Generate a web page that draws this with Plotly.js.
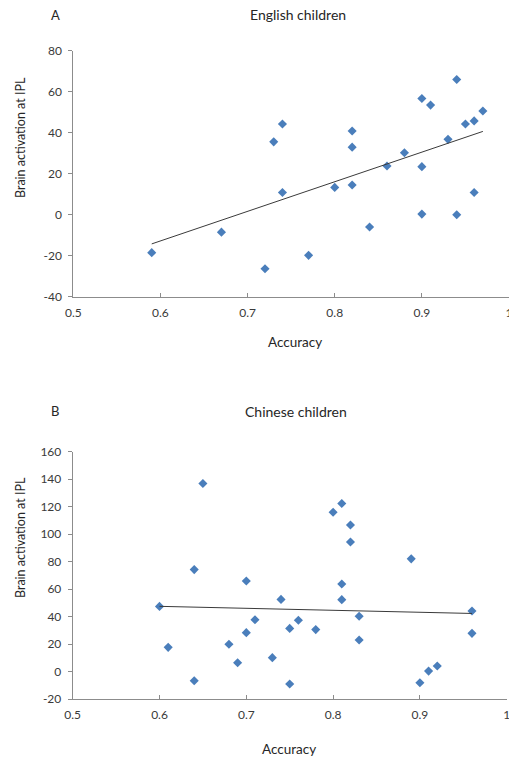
<!DOCTYPE html>
<html>
<head>
<meta charset="utf-8">
<script src="https://cdn.plot.ly/plotly-3.0.1.min.js"></script>
<style>html,body{margin:0;padding:0;background:#fff;}#chart{width:509px;height:762px;}</style>
</head>
<body>
<div id="chart"></div>
<script>
// Panel A: English children
const englishAccuracy = [0.59,0.67,0.72,0.73,0.74,0.74,0.77,0.80,0.82,0.82,0.82,0.84,0.86,0.88,0.90,0.90,0.90,0.91,0.93,0.94,0.94,0.95,0.96,0.96,0.97];
const englishActivation = [-18.5,-8.5,-26.3,35.5,44.2,10.8,-19.8,13.3,40.8,32.9,14.5,-6,23.7,30.2,56.6,23.4,0.3,53.4,36.7,65.9,0,44.2,45.7,10.8,50.5];
// Panel B: Chinese children
const chineseAccuracy = [0.60,0.61,0.64,0.64,0.65,0.68,0.69,0.70,0.70,0.71,0.73,0.74,0.75,0.75,0.76,0.78,0.80,0.81,0.81,0.81,0.82,0.82,0.83,0.83,0.89,0.90,0.91,0.92,0.96,0.96];
const chineseActivation = [47.4,17.6,74.2,-6.7,136.8,19.8,6.4,65.9,28.3,37.7,10.1,52.5,31.4,-9.1,37.3,30.5,115.9,122.3,63.7,52.3,106.7,94.3,40.2,22.9,82,-8.2,0.3,4,44.1,27.8];

const xTickVals = [0.5,0.6,0.7,0.8,0.9,1];
const xTickText = ['0.5','0.6','0.7','0.8','0.9','1'];
const yTicksA = [-40,-20,0,20,40,60,80];
const yTickTextA = ['-40','-20','0','20','40','60','80'];
const yTicksB = [-20,0,20,40,60,80,100,120,140,160];
const yTickTextB = ['-20','0','20','40','60','80','100','120','140','160'];

const panelTitles = ['English children','Chinese children'];
const panelLetters = ['A','B'];
const xTitle = 'Accuracy';
const yTitle = 'Brain activation at IPL';

function fitLine(xs, ys){
  const n = xs.length;
  const mx = xs.reduce((a,b)=>a+b,0)/n;
  const my = ys.reduce((a,b)=>a+b,0)/n;
  let sxy=0,sxx=0;
  for(let i=0;i<n;i++){sxy+=(xs[i]-mx)*(ys[i]-my);sxx+=(xs[i]-mx)*(xs[i]-mx);}
  const b = sxy/sxx, a = my-b*mx;
  const x0 = Math.min(...xs), x1 = Math.max(...xs);
  return {x:[x0,x1], y:[a+b*x0, a+b*x1]};
}

const W = 509, H = 762;
const px = v => v / W;
const py = v => 1 - v / H;

const markerStyle = {symbol:'diamond', size:7, color:'#4A7EBB', line:{width:0}};
const lineStyle = {color:'#3a3a3a', width:1};

const fitA = fitLine(englishAccuracy, englishActivation);
const fitB = fitLine(chineseAccuracy, chineseActivation);

const data = [
  {x:englishAccuracy, y:englishActivation, type:'scatter', mode:'markers', marker:markerStyle, xaxis:'x', yaxis:'y', hoverinfo:'x+y'},
  {x:fitA.x, y:fitA.y, type:'scatter', mode:'lines', line:lineStyle, xaxis:'x', yaxis:'y', hoverinfo:'skip'},
  {x:chineseAccuracy, y:chineseActivation, type:'scatter', mode:'markers', marker:markerStyle, xaxis:'x2', yaxis:'y2', hoverinfo:'x+y'},
  {x:fitB.x, y:fitB.y, type:'scatter', mode:'lines', line:lineStyle, xaxis:'x2', yaxis:'y2', hoverinfo:'skip'}
];

const fam = 'Lato, "Open Sans", sans-serif';
const tickFont = {family:fam, size:12, color:'#3a3a3a'};
const axisColor = '#8c8c8c';

function xAxis(domain, anchor){
  return {domain:domain, anchor:anchor, range:[0.5,1], tickmode:'array', tickvals:xTickVals, ticktext:xTickText,
    showline:true, linecolor:axisColor, linewidth:1, ticks:'inside', ticklen:4, tickcolor:axisColor,
    showgrid:false, zeroline:false, tickfont:tickFont, ticklabelstandoff:5, ticklabeloverflow:'allow', fixedrange:true};
}
function yAxis(domain, anchor, range, ticks, text){
  return {domain:domain, anchor:anchor, range:range, tickmode:'array', tickvals:ticks, ticktext:text,
    showline:true, linecolor:axisColor, linewidth:1, ticks:'outside', ticklen:4, tickcolor:axisColor,
    showgrid:false, zeroline:false, tickfont:tickFont, ticklabelstandoff:4, ticklabeloverflow:'allow', fixedrange:true};
}

function ann(text, x, y, size, angle){
  return {text:text, xref:'paper', yref:'paper', x:px(x), y:py(y), xanchor:'center', yanchor:'middle',
    showarrow:false, font:{family:fam, size:size, color:'#262626'}, textangle:angle||0};
}

const layout = {
  width:W, height:H, autosize:false,
  margin:{l:0,r:0,t:0,b:0,pad:0},
  paper_bgcolor:'#ffffff', plot_bgcolor:'#ffffff',
  showlegend:false,
  xaxis: xAxis([px(73.3), 1], 'y'),
  yaxis: yAxis([py(296.8), py(50.5)], 'x', [-40,80], yTicksA, yTickTextA),
  xaxis2: xAxis([px(72.7), px(506.7)], 'y2'),
  yaxis2: yAxis([py(699), py(451.7)], 'x2', [-20,160], yTicksB, yTickTextB),
  annotations:[
    ann(panelLetters[0], 55, 15, 13),
    ann(panelTitles[0], 298, 15, 14),
    ann(xTitle, 295, 342, 13.5),
    ann(yTitle, 20, 138, 12.5, -90),
    ann(panelLetters[1], 55, 411, 13),
    ann(panelTitles[1], 296, 411, 14),
    ann(xTitle, 289, 749, 13.5),
    ann(yTitle, 20, 538, 12.5, -90)
  ]
};

Plotly.newPlot('chart', data, layout, {displayModeBar:false, staticPlot:true});
</script>
</body>
</html>
